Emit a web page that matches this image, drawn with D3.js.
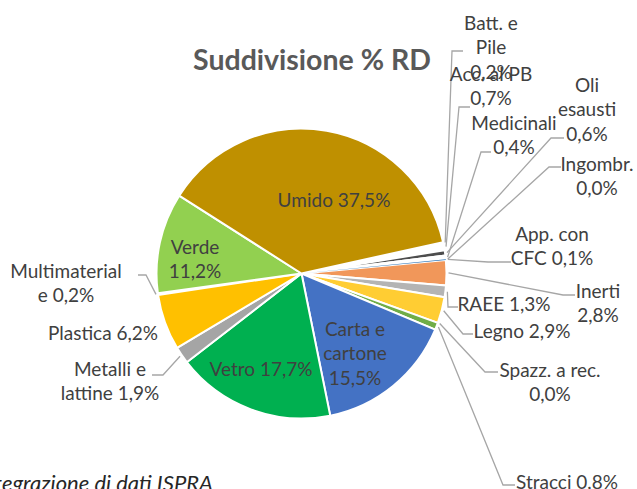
<!DOCTYPE html>
<html>
<head>
<meta charset="utf-8">
<script src="https://cdn.jsdelivr.net/npm/d3@7"></script>
<style>
  body { margin: 0; background: #fff; }
  svg text { font-family: Lato, "Open Sans", sans-serif; }
</style>
</head>
<body>
<svg id="chart" width="637" height="489"></svg>
<script>
// values (Excel pie, clockwise)
const categories = ["Batt. e Pile", "Acc. al PB", "Oli esausti", "Medicinali", "Ingombr.",
  "App. con CFC", "Inerti", "RAEE", "Legno", "Spazz. a rec.", "Stracci", "Carta e cartone",
  "Vetro", "Metalli e lattine", "Plastica", "Multimateriale", "Verde", "Umido"];
const values = [0.2, 0.7, 0.6, 0.4, 0.0, 0.1, 2.8, 1.3, 2.9, 0.0, 0.8, 15.5, 17.7, 1.9, 6.2, 0.2, 11.2, 37.5];
const colors = ["#ffffff", "#ffffff", "#4d4d4d", "#ffffff", "#ffffff", "#2e75b6", "#f1975a", "#b4b4b4",
  "#ffcd33", "#ffffff", "#70ad47", "#4472c4", "#00b050", "#a5a5a5", "#ffc000", "#ffffff", "#92d050", "#bf9000"];

// label text, with the line breaks Excel used ({v} = value)
const labelLines = {
  "Batt. e Pile": ["Batt. e", "Pile", "{v}"],
  "Acc. al PB": ["Acc. al PB", "{v}"],
  "Oli esausti": ["Oli", "esausti", "{v}"],
  "Medicinali": ["Medicinali", "{v}"],
  "Ingombr.": ["Ingombr.", "{v}"],
  "App. con CFC": ["App. con", "CFC {v}"],
  "Inerti": ["Inerti", "{v}"],
  "RAEE": ["RAEE {v}"],
  "Legno": ["Legno {v}"],
  "Spazz. a rec.": ["Spazz. a rec.", "{v}"],
  "Stracci": ["Stracci {v}"],
  "Carta e cartone": ["Carta e", "cartone", "{v}"],
  "Vetro": ["Vetro {v}"],
  "Metalli e lattine": ["Metalli e", "lattine {v}"],
  "Plastica": ["Plastica {v}"],
  "Multimateriale": ["Multimaterial", "e {v}"],
  "Verde": ["Verde", "{v}"],
  "Umido": ["Umido {v}"]
};

// where each label sits (x centre, first line y) and its leader line (label end, elbow)
const labelLayout = {
  "Batt. e Pile": { x: 491, y: 23, lead: [[463, 51], [452, 51]] },
  "Acc. al PB": { x: 491, y: 74, lead: [[470, 107], [459, 107]] },
  "Oli esausti": { x: 587, y: 85, lead: [[564, 138], [551, 138]] },
  "Medicinali": { x: 514, y: 123, lead: [[491, 152], [481, 152]] },
  "Ingombr.": { x: 597, y: 164, lead: [[561, 167], [549, 167]] },
  "App. con CFC": { x: 552, y: 234, lead: [[511, 262], [488, 262]] },
  "Inerti": { x: 598, y: 291, lead: [[575, 295], [563, 295]] },
  "RAEE": { x: 504, y: 304, lead: [[458, 307], [448, 307]] },
  "Legno": { x: 522, y: 331, lead: [[473, 334], [463, 334]] },
  "Spazz. a rec.": { x: 550, y: 370, lead: [[498, 372], [485, 372]] },
  "Stracci": { x: 567, y: 482, lead: [[515, 485], [503, 485]] },
  "Carta e cartone": { x: 355, y: 329 },
  "Vetro": { x: 261, y: 369 },
  "Metalli e lattine": { x: 110, y: 369, lead: [[152, 375], [163, 375]] },
  "Plastica": { x: 103, y: 333 },
  "Multimateriale": { x: 66, y: 271, lead: [[138, 275], [146, 275]] },
  "Verde": { x: 195, y: 247 },
  "Umido": { x: 334, y: 200 }
};

const data = categories.map((c, i) => ({ name: c, value: values[i], color: colors[i] }));

const svg = d3.select("#chart");
const cx = 301.5, cy = 273.5, radius = 145;
const lineH = 24.5;

const itFormat = d3.formatLocale({ decimal: ",", thousands: ".", grouping: [3], currency: ["€", ""] }).format(".1f");

const start = 77.5 * Math.PI / 180;
const pie = d3.pie().sort(null).value(d => d.value).startAngle(start).endAngle(start + 2 * Math.PI);
const arcs = pie(data);
const arc = d3.arc().innerRadius(0).outerRadius(radius);

const g = svg.append("g").attr("transform", `translate(${cx},${cy})`);

const slices = g.selectAll("path.slice")
  .data(arcs.filter(d => d.data.value > 0))
  .join("path")
  .attr("class", "slice")
  .attr("d", arc)
  .attr("fill", d => d.data.color)
  .attr("stroke", d => d.data.value < 0.3 ? "none" : "#fff")
  .attr("stroke-width", 2)
  .attr("stroke-linejoin", "round");
// hair-thin slices would vanish under neighbours' borders
slices.filter(d => d.data.value < 0.3).raise();

// leader lines: label -> elbow -> slice edge
const edge = d3.arc().innerRadius(radius + 2).outerRadius(radius + 2);
const leaders = arcs.filter(d => labelLayout[d.data.name].lead);
svg.selectAll("path.leader")
  .data(leaders)
  .join("path")
  .attr("class", "leader")
  .attr("fill", "none")
  .attr("stroke", "#a6a6a6")
  .attr("stroke-width", 1.3)
  .attr("d", d => {
    const [p0, p1] = labelLayout[d.data.name].lead;
    const c = edge.centroid(d);
    return d3.line()([p0, p1, [cx + c[0], cy + c[1]]]);
  });

// labels
const labels = svg.selectAll("text.label")
  .data(arcs)
  .join("text")
  .attr("class", "label")
  .attr("text-anchor", "middle")
  .attr("font-size", 19)
  .attr("fill", "#404040");

labels.each(function (d) {
  const pos = labelLayout[d.data.name];
  const v = itFormat(d.data.value) + "%";
  d3.select(this).selectAll("tspan")
    .data(labelLines[d.data.name].map(s => s.replace("{v}", v)))
    .join("tspan")
    .attr("x", pos.x)
    .attr("y", (s, i) => pos.y + i * lineH)
    .attr("dy", "0.36em")
    .text(s => s);
});

// title
svg.append("text")
  .attr("x", 312)
  .attr("y", 70)
  .attr("text-anchor", "middle")
  .attr("font-size", 28.5)
  .attr("font-weight", "bold")
  .attr("fill", "#595959")
  .text("Suddivisione % RD");

// source note, cut off at the left edge in the original
svg.append("text")
  .attr("x", 213)
  .attr("y", 491)
  .attr("text-anchor", "end")
  .attr("font-size", 22)
  .attr("font-style", "italic")
  .attr("fill", "#262626")
  .text("Fonte: elaborazione e integrazione di dati ISPRA");
</script>
</body>
</html>
